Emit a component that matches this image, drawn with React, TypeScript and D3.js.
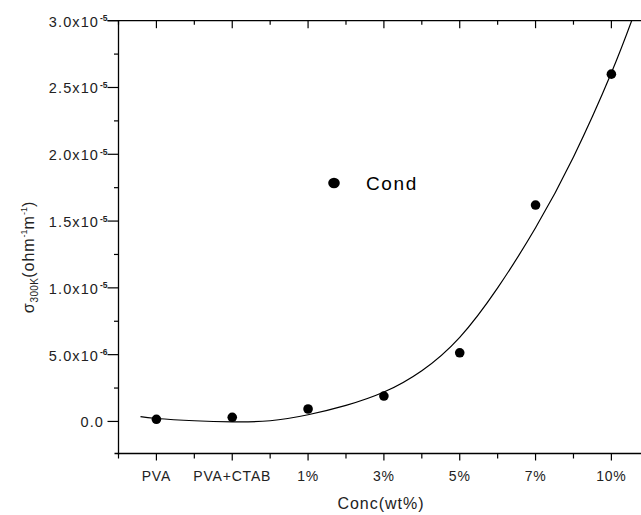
import React from "react";
import * as d3 from "d3";

// Sample categories along the x axis
const categories = ["PVA", "PVA+CTAB", "1%", "3%", "5%", "7%", "10%"];

// Measured room-temperature conductivity (ohm^-1 m^-1)
const conductivity = [0.16e-6, 0.31e-6, 0.93e-6, 1.9e-6, 5.14e-6, 16.2e-6, 26.0e-6];

// Fitted trend line (category position, conductivity)
const fitPosition = [0.79, 1.0, 1.5, 2.0, 2.5, 3.0, 3.5, 4.0, 4.5, 5.0, 5.5, 6.0, 6.5, 7.0, 7.3];
const fitValue = [
  0.36e-6, 0.22e-6, 0.05e-6, -0.03e-6, 0.05e-6, 0.5e-6, 1.2e-6, 2.2e-6, 3.8e-6,
  6.3e-6, 10.0e-6, 14.5e-6, 19.8e-6, 26.1e-6, 30.5e-6,
];

// Y tick values and their labels (mantissa x 10^exponent)
const yTickValues = [0, 5e-6, 1e-5, 1.5e-5, 2e-5, 2.5e-5, 3e-5];
const yTickMantissa = ["0.0", "5.0", "1.0", "1.5", "2.0", "2.5", "3.0"];
const yTickExponent = ["", "-6", "-5", "-5", "-5", "-5", "-5"];

const W = 641;
const H = 515;
const FONT = "'Liberation Sans', Arial, Helvetica, sans-serif";
const TEXT = "#222";

export default function App() {
  const x = d3.scaleLinear().domain([0.5, 7.5]).range([118.5, 649.3]);
  const y = d3.scaleLinear().domain([-2.4e-6, 3.0e-5]).range([453.5, 20.7]);

  const left = x(0.5);
  const top = y(3.0e-5);
  const bottom = y(-2.4e-6);

  const majorX = d3.range(1, 8);
  const minorX = d3.range(0.5, 7.6, 1);
  const minorY = d3.range(-2.5e-6, 3.0e-5, 5e-6).filter((v) => v >= -2.4e-6);

  const line = d3
    .line<number>()
    .x((_, i) => x(fitPosition[i]))
    .y((d) => y(d))
    .curve(d3.curveNatural);

  return (
    <svg
      width={W}
      height={H}
      style={{ position: "absolute", left: 0, top: 0, background: "#fff" }}
      fontFamily={FONT}
    >
      <defs>
        <clipPath id="plot">
          <rect x={left} y={top} width={W - left} height={bottom - top} />
        </clipPath>
      </defs>
      <rect width={W} height={H} fill="#fff" />

      {/* frame lines */}
      <g stroke="#000" strokeWidth={1.3} fill="none">
        <line x1={left} x2={left} y1={top} y2={bottom + 1} />
        <line x1={left - 4} x2={W} y1={bottom} y2={bottom} />
        <line x1={left - 11} x2={W} y1={top} y2={top} />
      </g>

      {/* left axis ticks and labels */}
      <g stroke="#000" strokeWidth={1.2}>
        {yTickValues.map((v) => (
          <line key={"ym" + v} x1={left - 11} x2={left} y1={y(v)} y2={y(v)} />
        ))}
        {minorY.map((v) => (
          <line key={"yn" + v} x1={left - 4.5} x2={left} y1={y(v)} y2={y(v)} />
        ))}
      </g>
      <g fill={TEXT} fontSize={14.5} letterSpacing={1.1}>
        {yTickValues.map((v, i) => (
          <text key={"yl" + v} x={yTickExponent[i] ? 99 : 104} y={y(v) + 6} textAnchor="end">
            {yTickExponent[i] ? yTickMantissa[i] + "x10" : yTickMantissa[i]}
          </text>
        ))}
        {yTickValues.map((v, i) =>
          yTickExponent[i] ? (
            <text key={"ye" + v} x={100} y={y(v) + 0.5} fontSize={8.5} letterSpacing={0} fontWeight="bold">
              {yTickExponent[i]}
            </text>
          ) : null
        )}
      </g>

      {/* bottom axis ticks and labels */}
      <g stroke="#000" strokeWidth={1.2}>
        {majorX.map((v) => (
          <line key={"xm" + v} x1={x(v)} x2={x(v)} y1={bottom} y2={bottom + 7} />
        ))}
        {minorX.map((v) => (
          <line key={"xn" + v} x1={x(v)} x2={x(v)} y1={bottom} y2={bottom + 5} />
        ))}
      </g>
      <g fill={TEXT} fontSize={14} letterSpacing={0.8} textAnchor="middle">
        {categories.map((c, i) => (
          <text key={c} x={x(i + 1)} y={481}>
            {c}
          </text>
        ))}
      </g>

      {/* top axis ticks (inward) */}
      <g stroke="#000" strokeWidth={1.2}>
        {majorX.map((v) => (
          <line key={"tm" + v} x1={x(v)} x2={x(v)} y1={top} y2={top + 7.5} />
        ))}
        {minorX.map((v) => (
          <line key={"tn" + v} x1={x(v)} x2={x(v)} y1={top} y2={top + 4} />
        ))}
      </g>

      {/* axis titles */}
      <text x={381} y={509} fontSize={16} fill={TEXT} textAnchor="middle" letterSpacing={1}>
        Conc(wt%)
      </text>
      <text
        transform="translate(33.5,257) rotate(-90)"
        fontSize={16}
        fill={TEXT}
        textAnchor="middle"
        letterSpacing={1}
      >
        σ
        <tspan fontSize={10} dy={4} letterSpacing={0.3}>300K</tspan>
        <tspan dy={-4}>(ohm</tspan>
        <tspan fontSize={9} dy={-7} letterSpacing={0}>-1</tspan>
        <tspan dy={7}>m</tspan>
        <tspan fontSize={9} dy={-7} letterSpacing={0}>-1</tspan>
        <tspan dy={7}>)</tspan>
      </text>

      {/* fitted curve */}
      <g clipPath="url(#plot)">
        <path d={line(fitValue) || ""} fill="none" stroke="#000" strokeWidth={1.2} />
      </g>

      {/* data points */}
      <g fill="#000">
        {conductivity.map((v, i) => (
          <circle key={categories[i]} cx={x(i + 1)} cy={y(v)} r={4.8} />
        ))}
      </g>

      {/* legend */}
      <ellipse cx={334} cy={183} rx={5.8} ry={5.2} fill="#000" />
      <text x={366} y={190} fontSize={19} fill="#000" letterSpacing={1.6}>
        Cond
      </text>
    </svg>
  );
}
